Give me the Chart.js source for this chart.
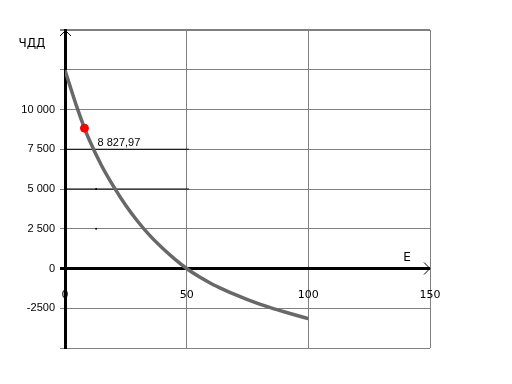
<!DOCTYPE html>
<html><head><meta charset="utf-8">
<script src="https://cdn.jsdelivr.net/npm/chart.js@4"></script>
<style>html,body{margin:0;padding:0;background:#fff}</style>
</head><body>
<canvas id="c" width="512" height="384" style="width:512px;height:384px;display:block"></canvas>
<script>
// Data
const rates = [0, 5, 8, 10, 15, 20, 25, 30, 35, 40, 45, 50, 55, 60, 65, 70, 75, 80, 85, 90, 95, 100];
const npvValues = [12470, 10100, 8828, 8080, 6480, 5150, 3960, 2940, 2050, 1290, 610, 0, -510, -940, -1310, -1650, -1960, -2240, -2490, -2720, -2940, -3150];
const markRate = [8];
const markValue = [8827.97];
const markLabel = '8 827,97';
const guideLevels = [7500, 5000];
const guideRange = [0, 51];
const dotRate = 12.8;
const dotLevels = [5000, 2500];
const xTickValues = [0, 50, 100, 150];
const yTickLabels = {'10000': '10 000', '7500': '7 500', '5000': '5 000', '2500': '2 500', '0': '0', '-2500': '-2500'};
const yAxisTitle = 'ЧДД';
const xAxisTitle = 'E';

const curveData = rates.map((r, i) => ({x: r, y: npvValues[i]}));
const markData = markRate.map((r, i) => ({x: r, y: markValue[i]}));
const guideSets = guideLevels.map(v => ({
  data: guideRange.map(x => ({x: x, y: v})),
  borderColor: '#000', borderWidth: 1, pointRadius: 0, showLine: true
}));
const dotData = dotLevels.map(v => ({x: dotRate, y: v}));

const decor = {
  id: 'decor',
  afterDraw(chart) {
    const ctx = chart.ctx, a = chart.chartArea;
    const xs = chart.scales.x, ys = chart.scales.y;
    const y0 = ys.getPixelForValue(0);
    ctx.save();
    ctx.strokeStyle = '#000'; ctx.lineWidth = 1;
    ctx.beginPath();
    ctx.moveTo(a.left - 5, a.top + 6); ctx.lineTo(a.left + 0.5, a.top + 0.5); ctx.lineTo(a.left + 6, a.top + 6);
    ctx.stroke();
    ctx.beginPath();
    ctx.moveTo(a.right - 6, y0 - 6); ctx.lineTo(a.right, y0); ctx.lineTo(a.right - 6, y0 + 6);
    ctx.stroke();
    ctx.fillStyle = '#000';
    ctx.font = '12px "DejaVu Sans"';
    ctx.textAlign = 'center'; ctx.textBaseline = 'middle';
    ctx.fillText(yAxisTitle, 32, 44);
    ctx.fillText(xAxisTitle, a.right - 23, y0 - 11);
    ctx.font = '11px "Liberation Sans"';
    ctx.textAlign = 'left';
    ctx.fillText(markLabel, xs.getPixelForValue(markRate[0]) + 13, ys.getPixelForValue(markValue[0]) + 15);
    ctx.restore();
  }
};

new Chart(document.getElementById('c'), {
  type: 'scatter',
  data: {
    datasets: [
      {data: markData, pointRadius: 4, pointBackgroundColor: '#ff0000', pointBorderColor: '#ff0000', showLine: false},
      {data: curveData, borderColor: '#686868', borderWidth: 3.5, pointRadius: 0, showLine: true, cubicInterpolationMode: 'monotone'},
      ...guideSets,
      {data: dotData, pointRadius: 1, pointBackgroundColor: '#000', pointBorderWidth: 0, showLine: false}
    ]
  },
  options: {
    responsive: false,
    animation: false,
    devicePixelRatio: 1,
    layout: {padding: {left: 0, right: 82, top: 30, bottom: 36}},
    plugins: {legend: {display: false}, tooltip: {enabled: false}},
    scales: {
      x: {
        type: 'linear', min: 0, max: 150,
        position: {y: 0},
        afterBuildTicks(s) { s.ticks = xTickValues.map(v => ({value: v})); },
        ticks: {color: '#000', font: {family: 'DejaVu Sans', size: 11}, padding: 20, maxRotation: 0},
        grid: {color: c => (c.tick && c.tick.value === 0) ? '#000' : '#808080', lineWidth: 1, drawTicks: false},
        border: {display: false}
      },
      y: {
        type: 'linear', min: -5000, max: 15000,
        afterFit(s) { s.width = 65; },
        ticks: {
          stepSize: 2500, color: '#000', padding: 5,
          font: {family: 'Liberation Sans', size: 11},
          callback: v => (yTickLabels[String(v)] !== undefined ? yTickLabels[String(v)] : '')
        },
        grid: {
          color: c => (c.tick && c.tick.value === 0) ? '#000' : '#808080',
          lineWidth: c => (c.tick && c.tick.value === 0) ? 3 : (c.tick && c.tick.value === 15000 ? 2 : 1),
          tickLength: 5
        },
        border: {color: '#000', width: 3}
      }
    }
  },
  plugins: [decor]
});
</script>
</body></html>
